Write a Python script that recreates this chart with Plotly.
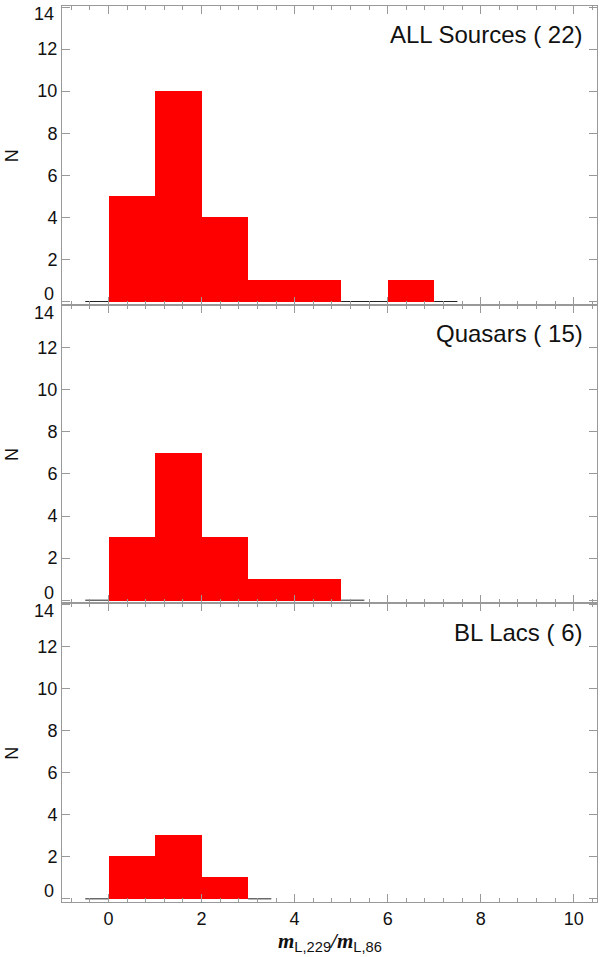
import plotly.graph_objects as go
from plotly.subplots import make_subplots

# ---- data ----
bin_left = [0, 1, 2, 3, 4, 5, 6]
counts_all = [5, 10, 4, 1, 1, 0, 1]
counts_qso = [3, 7, 3, 1, 1]
counts_bll = [2, 3, 1]
titles = ["ALL Sources ( 22)", "Quasars ( 15)", "BL Lacs ( 6)"]
x_ticks = [0, 2, 4, 6, 8, 10]
y_ticks = [0, 2, 4, 6, 8, 10, 12, 14]
bin_width = 1.0

panels = [counts_all, counts_qso, counts_bll]

fig = make_subplots(rows=3, cols=1, shared_xaxes=True, vertical_spacing=0)

FONT = "Liberation Sans, Arial"
y_lo, y_hi = y_ticks[0], y_ticks[-1]
inner = [v for v in y_ticks if v not in (y_lo, y_hi)]
for i, counts in enumerate(panels, start=1):
    lefts = bin_left[:len(counts)]
    centers = [l + bin_width / 2 for l in lefts]
    fig.add_trace(go.Bar(x=centers, y=counts, width=bin_width,
                         marker=dict(color="#ff0000", line=dict(width=0)),
                         showlegend=False, hoverinfo="skip"), row=i, col=1)
    # zero-level step segments (outside the bins and empty bins)
    first = lefts[0]
    last = lefts[-1] + bin_width
    zx = [first - bin_width / 2, first, None]
    for l, c in zip(lefts, counts):
        if c == 0:
            zx += [l, l + bin_width, None]
    zx += [last, last + bin_width / 2]
    zy = [0 if v is not None else None for v in zx]
    fig.add_trace(go.Scatter(x=zx, y=zy, mode="lines", line=dict(color="#222222", width=1),
                             showlegend=False, hoverinfo="skip", connectgaps=False), row=i, col=1)

    fig.update_yaxes(row=i, col=1, range=[-0.15, 14.05], tickvals=inner,
                     ticks="inside", ticklen=8, tickcolor="#999999",
                     minor=dict(tick0=y_lo, dtick=y_hi - y_lo, ticks="inside", ticklen=8,
                                tickcolor="#999999"),
                     showline=True, linecolor="#999999", linewidth=1, mirror="ticks",
                     showgrid=False, zeroline=False, automargin=False, ticklabeloverflow="allow",
                     tickfont=dict(family=FONT, size=18, color="#111111"))
    fig.update_xaxes(row=i, col=1, range=[-1, 10.5], tickvals=x_ticks,
                     ticks="inside", ticklen=8, tickcolor="#999999",
                     minor=dict(dtick=0.4, tick0=0, ticks="inside", ticklen=4, tickcolor="#999999"),
                     showline=True, linecolor="#999999", linewidth=1, mirror="ticks",
                     showgrid=False, zeroline=False, showticklabels=(i == 3), automargin=False,
                     ticklabeloverflow="allow",
                     tickfont=dict(family=FONT, size=18, color="#111111"))

    yref = "y" if i == 1 else f"y{i}"
    ydom = "y domain" if i == 1 else f"y{i} domain"
    xref = "x domain" if i == 1 else f"x{i} domain"
    # end tick labels (0 and 14), nudged inward as in the reference
    fig.add_annotation(text=str(y_hi), xref="paper", yref=yref, x=-7 / 535, y=y_hi,
                       xanchor="right", yanchor="middle", yshift=-7, showarrow=False,
                       borderpad=0, font=dict(family=FONT, size=18, color="#111111"))
    fig.add_annotation(text=str(y_lo), xref="paper", yref=yref, x=-7 / 535, y=y_lo,
                       xanchor="right", yanchor="middle", yshift=7.5, showarrow=False,
                       borderpad=0, font=dict(family=FONT, size=18, color="#111111"))
    fig.add_annotation(text=titles[i - 1], xref=xref, yref=ydom, x=0.977, y=0.903,
                       xanchor="right", yanchor="middle", showarrow=False,
                       font=dict(family=FONT, size=24, color="#111111"))
    fig.add_annotation(text="N", xref="paper", yref=ydom, x=-0.0935, y=0.5,
                       xanchor="center", yanchor="middle", textangle=-90, showarrow=False,
                       font=dict(family=FONT, size=18, color="#111111"))

fig.add_annotation(
    text=('<span style="font-family:Liberation Serif"><b><i>m</i></b></span><sub>L,229</sub>'
          '<span style="font-family:Liberation Serif"><b><i>/m</i></b></span><sub>L,86</sub>'),
    xref="paper", yref="paper", x=0.5, y=-40 / 896, xanchor="center", yanchor="middle",
    showarrow=False, font=dict(family=FONT, size=21, color="#111111"))

fig.update_layout(width=600, height=957, margin=dict(l=62, r=3, t=6, b=55, autoexpand=False),
                  plot_bgcolor="white", paper_bgcolor="white", barmode="overlay", bargap=0)

fig.write_html("out.html", config={"displayModeBar": False},
               post_script="document.body.style.margin='0';document.body.style.padding='0';")
